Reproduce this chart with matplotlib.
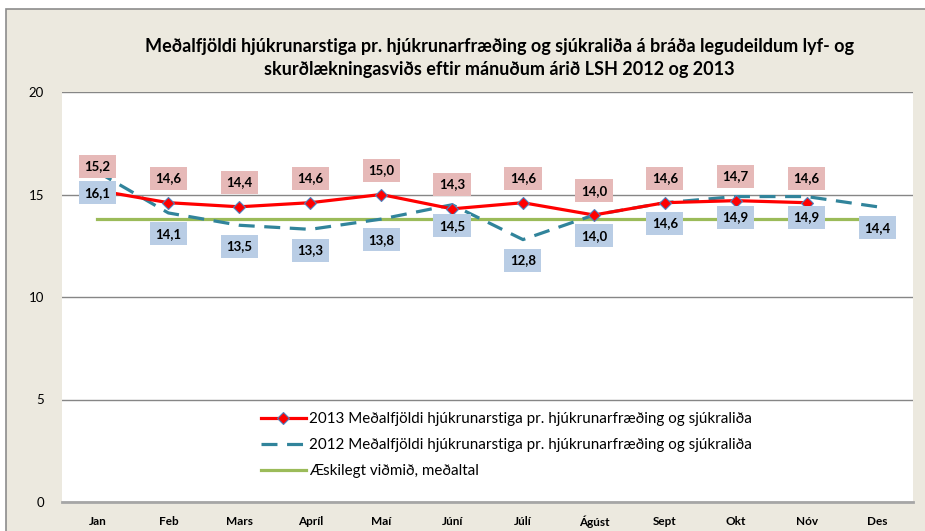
import matplotlib.pyplot as plt
from matplotlib.patches import Rectangle

months = ['Jan', 'Feb', 'Mars', 'Apríl', 'Maí', 'Júní', 'Júlí', 'Ágúst', 'Sept', 'Okt', 'Nóv', 'Des']
y2013 = [15.2, 14.6, 14.4, 14.6, 15.0, 14.3, 14.6, 14.0, 14.6, 14.7, 14.6]
y2012 = [16.1, 14.1, 13.5, 13.3, 13.8, 14.5, 12.8, 14.0, 14.6, 14.9, 14.9, 14.4]
target = [13.8] * 12

lbl2013 = '2013 Meðalfjöldi hjúkrunarstiga pr. hjúkrunarfræðing og sjúkraliða'
lbl2012 = '2012 Meðalfjöldi hjúkrunarstiga pr. hjúkrunarfræðing og sjúkraliða'
lbl_target = 'Æskilegt viðmið, meðaltal'
title = ('Meðalfjöldi hjúkrunarstiga pr. hjúkrunarfræðing og sjúkraliða á bráða legudeildum lyf- og\n'
         'skurðlækningasviðs eftir mánuðum árið LSH 2012 og 2013')

plt.rcParams['font.family'] = ['Lato', 'DejaVu Sans']

fig = plt.figure(figsize=(9.25, 5.31), dpi=100)
fig.patch.set_facecolor('white')
bg = '#ECE9DF'
fig.patches.append(Rectangle((6 / 925, -0.01), 1.0, (531 - 9) / 531 + 0.01, transform=fig.transFigure,
                             facecolor=bg, edgecolor='#8C8C8C', linewidth=1.2, zorder=-10))

ax = fig.add_axes([62 / 925, 29 / 531, 851 / 925, 410 / 531])
ax.set_zorder(1)
ax.set_facecolor('white')
x = list(range(len(months)))

ax.plot(x, target, color='#9BBB59', linewidth=2.3, zorder=2, label=lbl_target)
ax.plot(x, y2012, color='#31849B', linewidth=2.3, dashes=(5, 3), zorder=3, label=lbl2012)
ax.plot(x[:len(y2013)], y2013, color='#FF0000', linewidth=2.3, marker='D', markersize=6.5,
        markerfacecolor='#FF0000', markeredgecolor='#4F81BD', markeredgewidth=0.8, zorder=4, label=lbl2013)

for i, v in enumerate(y2013):
    ax.annotate(f'{v:.1f}'.replace('.', ','), (i, v), xytext=(0, 17.5), textcoords='offset points',
                ha='center', va='center', fontsize=9.5, fontweight='bold', zorder=6,
                bbox=dict(boxstyle='square,pad=0.42', facecolor='#E6B9B8', edgecolor='none'))
for i, v in enumerate(y2012):
    ax.annotate(f'{v:.1f}'.replace('.', ','), (i, v), xytext=(0, -15), textcoords='offset points',
                ha='center', va='center', fontsize=9.5, fontweight='bold', zorder=6,
                bbox=dict(boxstyle='square,pad=0.42', facecolor='#B9CDE5', edgecolor='none'))

ax.set_xlim(-0.5, 11.5)
ax.set_ylim(0, 20)
ax.set_yticks([0, 5, 10, 15, 20])
ax.set_xticks(x)
ax.set_xticklabels(months, fontsize=8.5, fontweight='bold')
ax.tick_params(axis='y', labelsize=9.5, length=0, pad=13)
ax.tick_params(axis='x', length=0, pad=10)
ax.grid(axis='y', color='#868686', linewidth=1)
ax.set_axisbelow(True)
for s in ['left', 'right', 'top']:
    ax.spines[s].set_visible(False)
ax.spines['bottom'].set_color('#A6A6A6')
ax.spines['bottom'].set_linewidth(2)

handles, labels = ax.get_legend_handles_labels()
order = [2, 1, 0]
ax.legend([handles[i] for i in order], [labels[i] for i in order], loc='center',
          bbox_to_anchor=(0.522, 0.139), frameon=False, fontsize=10.9, handlelength=3.0,
          handletextpad=0.2, labelspacing=0.8)

fig.text(499 / 925, 1 - 58 / 531, title, ha='center', va='center', fontsize=13,
         fontweight='bold', linespacing=1.4)

fig.savefig('out.png', dpi=100)
